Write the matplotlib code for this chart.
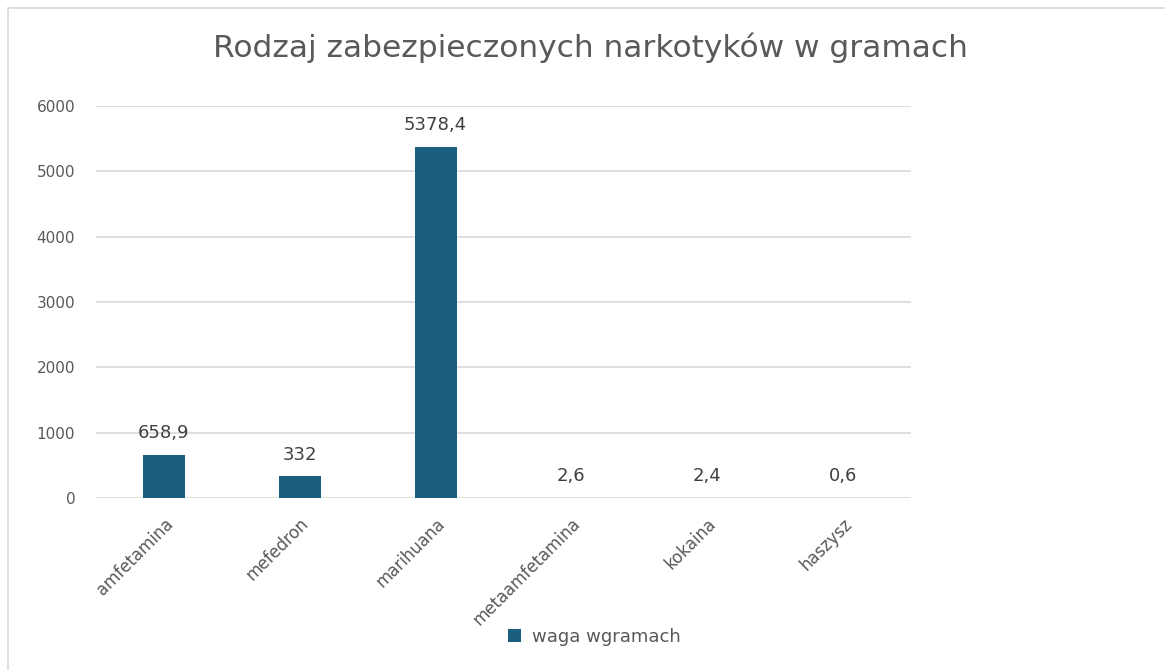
import matplotlib.pyplot as plt
from matplotlib.patches import Rectangle

categories = ['amfetamina', 'mefedron', 'marihuana', 'metaamfetamina', 'kokaina', 'haszysz']
values = [658.9, 332, 5378.4, 2.6, 2.4, 0.6]
value_labels = ['658,9', '332', '5378,4', '2,6', '2,4', '0,6']
yticks = [0, 1000, 2000, 3000, 4000, 5000, 6000]

BAR_COLOR = '#1a5e80'
TEXT_COLOR = '#595959'
GRID_COLOR = '#d9d9d9'

plt.rcParams['font.family'] = ['DejaVu Sans']

fig = plt.figure(figsize=(11.65, 6.7), dpi=100)
fig.patches.append(Rectangle((8 / 1165, -0.1), 1.2, 1.1 - 8 / 670, transform=fig.transFigure,
                             facecolor='none', edgecolor=GRID_COLOR, linewidth=1.2))

ax = fig.add_axes([0.0824, 0.2567, 0.6996, 0.5851])
x = range(len(categories))
bars = ax.bar(x, values, width=0.31, color=BAR_COLOR, label='waga wgramach', zorder=3)

for rect, lab in zip(bars, value_labels):
    ax.annotate(lab, (rect.get_x() + rect.get_width() / 2, rect.get_height()),
                xytext=(0, 9), textcoords='offset points', ha='center', va='bottom',
                fontsize=13, color='#404040')

ax.set_xlim(-0.5, len(categories) - 0.5)
ax.set_ylim(0, 6000)
ax.set_yticks(yticks)
ax.set_yticklabels([str(t) for t in yticks], fontsize=11, color=TEXT_COLOR)
ax.set_xticks(list(x))
ax.set_xticklabels(categories, rotation=45, ha='right', rotation_mode='anchor',
                   fontsize=12, color=TEXT_COLOR)
ax.tick_params(axis='both', length=0)
ax.tick_params(axis='y', pad=15)
ax.tick_params(axis='x', pad=12)
ax.grid(axis='y', color=GRID_COLOR, linewidth=1.2, zorder=0)
for s in ax.spines.values():
    s.set_visible(False)

fig.text(0.507, 0.928, 'Rodzaj zabezpieczonych narkotyków w gramach', ha='center', va='center',
         fontsize=22.5, color=TEXT_COLOR)

leg = fig.legend(loc='center', bbox_to_anchor=(0.51, 0.05), frameon=False, fontsize=13,
                 handlelength=0.7, handleheight=0.7, handletextpad=0.6)
for t in leg.get_texts():
    t.set_color(TEXT_COLOR)

fig.savefig('out.png', dpi=100, facecolor='white')
